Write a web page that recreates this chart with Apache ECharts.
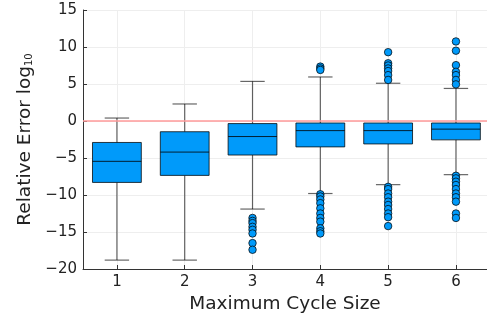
<!DOCTYPE html>
<html><head><meta charset="utf-8">
<script src="https://cdn.jsdelivr.net/npm/echarts@6/dist/echarts.min.js"></script>
<style>html,body{margin:0;padding:0;background:#fff}#c{width:487px;height:320px}</style>
</head><body><div id="c"></div>
<script>
const categories = [1, 2, 3, 4, 5, 6];
const whiskerLow  = [-18.8, -18.8, -11.9, -9.8, -8.6, -7.25];
const q1          = [-8.3, -7.35, -4.6, -3.5, -3.1, -2.55];
const median      = [-5.45, -4.2, -2.1, -1.3, -1.3, -1.1];
const q3          = [-2.9, -1.45, -0.35, -0.27, -0.27, -0.27];
const whiskerHigh = [0.4, 2.3, 5.35, 5.95, 5.1, 4.4];
const outliers3 = [-13.1, -13.5, -13.8, -14.3, -14.7, -15.2, -16.5, -17.4];
const outliers4 = [7.35, 7.1, 6.9, -9.9, -10.2, -10.6, -11.1, -11.8, -12.5, -13.1, -13.6, -14.5, -14.9, -15.2];
const outliers5 = [9.3, 7.8, 7.5, 7.1, 6.75, 6.2, 5.55, -8.9, -9.2, -9.8, -10.3, -10.9, -11.35, -11.9, -12.5, -13.0, -14.2];
const outliers6 = [10.75, 9.5, 7.55, 6.65, 6.2, 5.55, 4.95, -7.4, -7.75, -8.2, -8.65, -9.2, -9.8, -10.3, -10.9, -12.5, -13.1];
const yTicks = [-20, -15, -10, -5, 0, 5, 10, 15];
const refLine = 0;

const boxData = categories.map((c, i) => [c, whiskerLow[i], q1[i], median[i], q3[i], whiskerHigh[i]]);
const outlierData = [];
[[3, outliers3], [4, outliers4], [5, outliers5], [6, outliers6]].forEach(([c, arr]) => arr.forEach(v => outlierData.push([c, v])));

const BLUE = '#009AFA';
function renderBox(params, api) {
  const x = api.value(0);
  const lo = api.coord([x, api.value(1)]);
  const b1 = api.coord([x, api.value(2)]);
  const md = api.coord([x, api.value(3)]);
  const b3 = api.coord([x, api.value(4)]);
  const hi = api.coord([x, api.value(5)]);
  const w = api.size([0.72, 0])[0];
  const cw = w / 2;
  const cx = lo[0];
  const wl = {stroke: 'rgba(0,0,0,0.6)', lineWidth: 1.2};
  return {type: 'group', children: [
    {type: 'line', shape: {x1: cx, y1: lo[1], x2: cx, y2: b1[1]}, style: wl},
    {type: 'line', shape: {x1: cx, y1: b3[1], x2: cx, y2: hi[1]}, style: wl},
    {type: 'line', shape: {x1: cx - cw/2, y1: lo[1], x2: cx + cw/2, y2: lo[1]}, style: wl},
    {type: 'line', shape: {x1: cx - cw/2, y1: hi[1], x2: cx + cw/2, y2: hi[1]}, style: wl},
    {type: 'rect', shape: {x: cx - w/2, y: b3[1], width: w, height: b1[1] - b3[1]}, style: {fill: BLUE, stroke: 'rgba(0,0,0,0.75)', lineWidth: 1}},
    {type: 'line', shape: {x1: cx - w/2, y1: md[1], x2: cx + w/2, y2: md[1]}, style: {stroke: 'rgba(0,0,0,0.8)', lineWidth: 1}}
  ]};
}

const chart = echarts.init(document.getElementById('c'), null, {renderer: 'canvas'});
chart.setOption({
  animation: false,
  grid: {left: 83, right: 0, top: 10, bottom: 51},
  xAxis: {
    type: 'value', min: 0.5, max: 6.458, interval: 1,
    name: 'Maximum Cycle Size', nameLocation: 'middle', nameGap: 25,
    nameTextStyle: {fontFamily: 'DejaVu Sans', fontSize: 18.5, color: '#222'},
    axisLine: {onZero: false, lineStyle: {color: '#333', width: 1}},
    axisTick: {inside: true, length: 4, lineStyle: {color: '#333'}, customValues: categories},
    axisLabel: {fontFamily: 'DejaVu Sans', fontSize: 15, color: '#222', margin: 6, customValues: categories},
    splitLine: {show: true, lineStyle: {color: '#eeeeee', width: 1}, customValues: categories}
  },
  yAxis: {
    type: 'value', min: -20, max: 15, interval: 5,
    name: 'Relative Error log{sub|10}', nameLocation: 'middle', nameGap: 48, nameRotate: 90,
    nameTextStyle: {fontFamily: 'DejaVu Sans', fontSize: 18.5, color: '#222',
      rich: {sub: {fontFamily: 'DejaVu Sans', fontSize: 10, color: '#222', verticalAlign: 'bottom', padding: [8, 0, 0, 0]}}},
    axisLine: {show: true, lineStyle: {color: '#333', width: 1}},
    axisTick: {show: true, inside: true, length: 4, lineStyle: {color: '#333'}},
    axisLabel: {fontFamily: 'DejaVu Sans', fontSize: 15, color: '#222', margin: 6,
      formatter: v => (v < 0 ? '\u2212' + Math.abs(v) : String(v))},
    splitLine: {show: true, lineStyle: {color: '#eeeeee', width: 1}}
  },
  series: [
    {type: 'custom', renderItem: renderBox, data: boxData, encode: {x: 0, y: [1, 2, 3, 4, 5]}, z: 3},
    {type: 'scatter', data: outlierData, symbol: 'circle', symbolSize: 7.5,
      itemStyle: {color: BLUE, opacity: 1, borderColor: 'rgba(0,0,0,0.8)', borderWidth: 0.9}, z: 4},
    {type: 'line', data: [], markLine: {silent: true, symbol: 'none', label: {show: false},
      lineStyle: {color: '#ff9a9a', width: 1.5, type: 'solid'}, data: [{yAxis: refLine}]}, z: 2}
  ]
});
</script></body></html>
